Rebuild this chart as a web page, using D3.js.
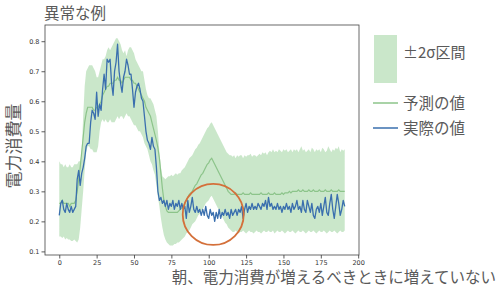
<!DOCTYPE html>
<html>
<head>
<meta charset="utf-8">
<script src="https://cdn.jsdelivr.net/npm/d3@7"></script>
<style>
body { margin: 0; background: white; }
svg text { font-family: "Noto Sans CJK JP", "DejaVu Sans", sans-serif; }
</style>
</head>
<body>
<svg id="chart" width="500" height="288"></svg>
<script>
// values, one per step (0..191)
var actual = [
 0.22,0.26,0.27,0.24,0.23,0.26,0.24,0.23,0.25,0.23,0.24,0.25,0.34,0.37,0.32,0.36,0.38,0.41,0.45,0.46,
 0.46,0.53,0.57,0.56,0.54,0.63,0.55,0.59,0.57,0.64,0.69,0.64,0.74,0.73,0.74,0.66,0.62,0.70,0.73,0.79,
 0.70,0.66,0.63,0.68,0.70,0.74,0.72,0.69,0.69,0.64,0.58,0.63,0.65,0.66,0.64,0.61,0.60,0.55,0.50,0.47,
 0.46,0.44,0.48,0.45,0.44,0.38,0.30,0.27,0.28,0.26,0.27,0.25,0.27,0.24,0.26,0.25,0.27,0.24,0.26,0.25,
 0.27,0.24,0.26,0.24,0.25,0.21,0.27,0.23,0.25,0.28,0.24,0.23,0.25,0.23,0.24,0.22,0.24,0.22,0.25,0.22,
 0.21,0.24,0.22,0.23,0.20,0.23,0.21,0.24,0.21,0.23,0.22,0.24,0.22,0.23,0.21,0.24,0.22,0.23,0.24,0.22,
 0.24,0.23,0.25,0.21,0.24,0.26,0.23,0.25,0.24,0.26,0.24,0.25,0.24,0.26,0.25,0.24,0.26,0.25,0.27,0.24,
 0.28,0.25,0.26,0.24,0.25,0.24,0.26,0.24,0.25,0.23,0.25,0.24,0.26,0.24,0.25,0.23,0.26,0.24,0.25,0.27,
 0.24,0.25,0.23,0.27,0.24,0.23,0.27,0.25,0.23,0.26,0.22,0.21,0.24,0.25,0.23,0.26,0.22,0.25,0.28,0.23,
 0.22,0.26,0.29,0.24,0.21,0.25,0.29,0.26,0.22,0.24,0.27,0.25
];
var predicted = [
 0.26,0.26,0.27,0.26,0.26,0.26,0.26,0.25,0.26,0.26,0.26,0.27,0.30,0.34,0.38,0.43,0.48,0.53,0.56,0.58,
 0.58,0.58,0.58,0.57,0.57,0.58,0.58,0.59,0.60,0.62,0.63,0.64,0.65,0.65,0.66,0.66,0.66,0.67,0.67,0.68,
 0.67,0.67,0.66,0.67,0.68,0.68,0.68,0.68,0.67,0.67,0.66,0.66,0.65,0.64,0.63,0.62,0.61,0.60,0.58,0.57,
 0.56,0.55,0.53,0.51,0.49,0.47,0.445,0.41,0.36,0.31,0.27,0.25,0.235,0.23,0.23,0.23,0.23,0.23,0.23,0.23,
 0.235,0.24,0.245,0.25,0.26,0.27,0.28,0.29,0.295,0.30,0.31,0.32,0.325,0.335,0.345,0.355,0.36,0.37,0.38,0.39,
 0.395,0.405,0.41,0.40,0.39,0.38,0.37,0.36,0.35,0.34,0.33,0.32,0.31,0.30,0.295,0.29,0.29,0.29,0.295,0.29,
 0.29,0.29,0.29,0.295,0.29,0.29,0.29,0.29,0.295,0.29,0.29,0.29,0.29,0.29,0.29,0.295,0.29,0.29,0.29,0.29,
 0.295,0.29,0.29,0.29,0.295,0.29,0.29,0.29,0.29,0.295,0.29,0.295,0.295,0.295,0.30,0.295,0.30,0.30,0.30,0.30,
 0.305,0.30,0.30,0.305,0.30,0.30,0.30,0.305,0.30,0.30,0.305,0.30,0.30,0.30,0.305,0.30,0.30,0.30,0.305,0.30,
 0.30,0.30,0.305,0.30,0.30,0.30,0.30,0.305,0.30,0.30,0.30,0.30
];
var upper = [
 0.40,0.39,0.39,0.38,0.39,0.38,0.38,0.39,0.38,0.38,0.39,0.39,0.39,0.40,0.40,0.43,0.55,0.65,0.70,0.71,
 0.72,0.72,0.72,0.71,0.70,0.68,0.68,0.70,0.72,0.74,0.74,0.75,0.77,0.78,0.77,0.78,0.79,0.80,0.81,0.81,
 0.80,0.79,0.77,0.76,0.77,0.75,0.77,0.78,0.78,0.77,0.76,0.74,0.73,0.72,0.71,0.70,0.70,0.67,0.64,0.62,
 0.61,0.61,0.60,0.59,0.57,0.55,0.50,0.43,0.38,0.35,0.345,0.34,0.345,0.35,0.35,0.355,0.35,0.355,0.36,0.355,
 0.36,0.36,0.37,0.375,0.38,0.39,0.40,0.41,0.415,0.42,0.43,0.44,0.445,0.455,0.46,0.47,0.48,0.49,0.50,0.51,
 0.515,0.525,0.53,0.52,0.51,0.50,0.49,0.48,0.47,0.46,0.45,0.44,0.43,0.425,0.42,0.42,0.415,0.42,0.41,0.42,
 0.415,0.42,0.42,0.41,0.42,0.415,0.42,0.42,0.425,0.415,0.42,0.42,0.415,0.42,0.425,0.42,0.43,0.425,0.43,0.42,
 0.43,0.435,0.43,0.44,0.43,0.435,0.43,0.44,0.435,0.43,0.44,0.435,0.44,0.43,0.435,0.44,0.43,0.44,0.435,0.44,
 0.43,0.44,0.45,0.435,0.44,0.43,0.435,0.44,0.43,0.445,0.44,0.43,0.44,0.435,0.44,0.43,0.445,0.44,0.43,0.435,
 0.45,0.44,0.43,0.44,0.435,0.445,0.44,0.45,0.43,0.44,0.435,0.44
];
var lower = [
 0.15,0.15,0.145,0.15,0.14,0.145,0.14,0.14,0.135,0.135,0.14,0.135,0.13,0.14,0.18,0.24,0.30,0.37,0.43,0.45,
 0.45,0.44,0.44,0.43,0.43,0.43,0.45,0.50,0.53,0.54,0.53,0.54,0.53,0.53,0.54,0.53,0.53,0.53,0.54,0.55,
 0.54,0.55,0.55,0.54,0.55,0.56,0.55,0.55,0.54,0.53,0.52,0.52,0.51,0.50,0.50,0.49,0.48,0.46,0.45,0.44,
 0.42,0.40,0.39,0.37,0.355,0.32,0.28,0.25,0.21,0.18,0.155,0.14,0.13,0.125,0.12,0.12,0.12,0.125,0.125,0.13,
 0.13,0.135,0.14,0.145,0.15,0.16,0.165,0.17,0.18,0.19,0.195,0.20,0.21,0.22,0.225,0.235,0.24,0.25,0.26,0.265,
 0.27,0.28,0.285,0.275,0.265,0.255,0.245,0.235,0.225,0.215,0.205,0.195,0.19,0.18,0.175,0.17,0.165,0.165,0.17,0.165,
 0.16,0.165,0.165,0.17,0.165,0.16,0.165,0.17,0.165,0.165,0.16,0.165,0.17,0.165,0.165,0.16,0.165,0.17,0.165,0.165,
 0.17,0.165,0.165,0.17,0.16,0.165,0.17,0.165,0.165,0.17,0.165,0.16,0.165,0.17,0.165,0.165,0.17,0.165,0.16,0.165,
 0.17,0.165,0.165,0.17,0.165,0.16,0.165,0.17,0.165,0.165,0.17,0.165,0.16,0.165,0.17,0.165,0.165,0.17,0.165,0.16,
 0.165,0.17,0.165,0.165,0.17,0.165,0.16,0.165,0.17,0.165,0.165,0.17
];
var x_ticks = [0, 25, 50, 75, 100, 125, 150, 175, 200];
var y_ticks = [0.1, 0.2, 0.3, 0.4, 0.5, 0.6, 0.7, 0.8];
var legend_labels = ["±2σ区間", "予測の値", "実際の値"];
var title_text = "異常な例";
var y_label = "電力消費量";
var note_text = "朝、電力消費が増えるべきときに増えていない";
// where the anomaly is circled (step, value)
var anomaly = [103, 0.223];

var band_color = "#2ca02c";
var pred_color = "#8cc48a";
var actual_color = "#3a6fae";
var text_gray = "#5a5a5a";

var svg = d3.select("#chart");
var plot_left = 45, plot_right = 359, plot_top = 25, plot_bottom = 255;

var x = d3.scaleLinear().domain([-9.55, 200.55]).range([plot_left, plot_right]);
var y = d3.scaleLinear().domain([0.088, 0.854]).range([plot_bottom, plot_top]);

var steps = d3.range(actual.length);

// band
var area = d3.area()
    .x(function(i) { return x(i); })
    .y0(function(i) { return y(lower[i]); })
    .y1(function(i) { return y(upper[i]); });
svg.append("path").datum(steps)
    .attr("d", area)
    .attr("fill", band_color)
    .attr("fill-opacity", 0.25);

var line = function(arr) {
    return d3.line().x(function(i) { return x(i); }).y(function(i) { return y(arr[i]); });
};
svg.append("path").datum(steps)
    .attr("d", line(predicted))
    .attr("fill", "none").attr("stroke", pred_color).attr("stroke-width", 1.2);
svg.append("path").datum(steps)
    .attr("d", line(actual))
    .attr("fill", "none").attr("stroke", actual_color).attr("stroke-width", 1.3)
    .attr("stroke-linejoin", "round");

// axes
var xAxis = svg.append("g").attr("transform", "translate(0," + plot_bottom + ")")
    .call(d3.axisBottom(x).tickValues(x_ticks).tickSize(3.5).tickPadding(1.5).tickFormat(d3.format("d")));
var yAxis = svg.append("g").attr("transform", "translate(" + plot_left + ",0)")
    .call(d3.axisLeft(y).tickValues(y_ticks).tickSize(3.5).tickPadding(2).tickFormat(d3.format(".1f")));
[xAxis, yAxis].forEach(function(g) {
    g.select(".domain").remove();
    g.selectAll("line").attr("stroke", "#333").attr("stroke-width", 0.8);
    g.selectAll("text").style("font-family", "DejaVu Sans").style("font-size", "6.5px").attr("fill", "#333");
});
svg.append("rect")
    .attr("x", plot_left).attr("y", plot_top)
    .attr("width", plot_right - plot_left).attr("height", plot_bottom - plot_top)
    .attr("fill", "none").attr("stroke", "#444").attr("stroke-width", 0.8);

// anomaly circle
svg.append("circle")
    .attr("cx", x(anomaly[0])).attr("cy", y(anomaly[1])).attr("r", 30.5)
    .attr("fill", "none").attr("stroke", "#d4703a").attr("stroke-width", 1.8);

// texts
svg.append("text").attr("x", 44).attr("y", 19).text(title_text)
    .style("font-size", "15.5px").attr("fill", text_gray);
svg.append("text").attr("transform", "translate(19.5,146) rotate(-90)")
    .attr("text-anchor", "middle").text(y_label)
    .style("font-size", "17px").attr("fill", text_gray);
svg.append("text").attr("x", 496).attr("y", 283).attr("text-anchor", "end").text(note_text)
    .style("font-size", "15.5px").attr("fill", text_gray);

// legend
var lg = svg.append("g");
lg.append("rect").attr("x", 374).attr("y", 35).attr("width", 23).attr("height", 48)
    .attr("fill", band_color).attr("fill-opacity", 0.25);
lg.append("text").attr("x", 403).attr("y", 58).text(legend_labels[0])
    .style("font-size", "15px").attr("fill", text_gray);
[[pred_color, 103], [actual_color, 128]].forEach(function(d, k) {
    lg.append("line").attr("x1", 373).attr("x2", 398).attr("y1", d[1]).attr("y2", d[1])
        .attr("stroke", d[0]).attr("stroke-width", 1.5);
    lg.append("text").attr("x", 403).attr("y", d[1] + 5.5).text(legend_labels[k + 1])
        .style("font-size", "15.5px").attr("fill", text_gray);
});
</script>
</body>
</html>
